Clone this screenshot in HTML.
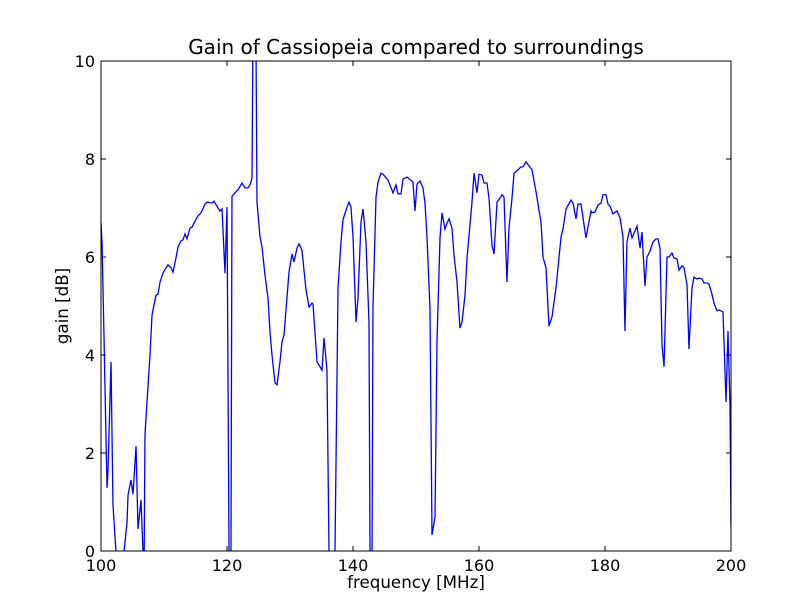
<!DOCTYPE html>
<html><head><meta charset="utf-8"><style>
body{margin:0;background:#fff;}
svg{display:block;font-family:"DejaVu Sans","Liberation Sans",sans-serif;}
</style></head><body>
<svg id="chart" width="812" height="612" viewBox="0 0 812 612">
<defs><clipPath id="plotclip"><rect x="101" y="61" width="630" height="490"/></clipPath></defs>
<rect width="812" height="612" fill="#fff"/>
<text x="416" y="54" font-size="20" text-anchor="middle">Gain of Cassiopeia compared to surroundings</text>
<g id="ticks"></g>
<path id="line" fill="none" stroke="#0000ff" stroke-width="1.3" clip-path="url(#plotclip)"/>
<rect x="101" y="61" width="630" height="490" fill="none" stroke="#000" stroke-width="1"/>
<text x="416" y="588" font-size="16.7" text-anchor="middle">frequency [MHz]</text>
<text transform="translate(68,306) rotate(-90)" font-size="16.7" text-anchor="middle">gain [dB]</text>
</svg>
<script>
const freq=[100.0,100.16,100.48,100.95,101.11,101.59,101.90,102.38,102.7,103.17,103.65,104.13,104.29,104.76,105.08,105.56,105.87,106.35,106.67,106.83,106.98,107.30,107.78,108.10,108.73,109.05,109.37,109.84,110.32,110.63,111.11,111.43,111.90,112.22,112.70,113.02,113.33,113.65,114.13,114.44,114.92,115.40,115.87,116.51,116.83,117.62,117.94,118.57,118.89,119.21,119.68,120.0,120.32,120.48,120.63,120.79,121.27,121.75,122.38,122.86,123.33,123.65,123.97,124.2,124.52,124.76,125.24,125.56,126.03,126.51,126.83,127.14,127.62,127.94,128.41,128.73,129.05,129.84,130.32,130.63,131.11,131.43,131.90,132.54,133.02,133.49,133.65,134.29,135.08,135.40,135.87,136.19,136.67,137.14,137.62,138.10,138.41,139.05,139.37,139.68,140.0,140.48,140.79,141.27,141.59,142.06,142.54,142.70,142.86,143.02,143.17,143.65,143.97,144.44,144.76,145.56,146.35,146.83,147.14,147.62,147.94,148.57,149.52,149.84,150.16,150.63,151.11,151.43,151.75,152.22,152.54,153.02,153.33,153.81,154.13,154.60,154.92,155.24,155.71,156.03,156.51,156.98,157.30,157.78,158.10,158.89,159.21,159.68,160.0,160.48,160.79,161.27,161.59,162.06,162.38,162.86,163.33,163.65,163.97,164.44,164.76,165.24,165.56,166.19,166.67,166.98,167.46,168.41,169.05,169.84,170.16,170.63,171.11,171.59,172.22,173.02,173.33,173.81,174.60,174.92,175.40,175.71,176.19,176.98,177.78,177.94,178.41,178.89,179.37,179.68,180.16,180.48,180.79,181.27,181.90,182.38,182.86,183.17,183.49,183.97,184.29,185.08,185.56,185.87,186.35,186.67,187.14,187.62,188.10,188.41,188.73,189.05,189.37,189.84,190.16,190.63,190.95,191.43,191.75,192.22,192.54,193.02,193.33,193.81,194.13,194.60,194.92,195.40,195.71,196.19,196.51,196.98,197.30,197.78,198.10,198.73,199.21,199.52,199.84,200.0];
const gain=[6.7,6.31,4.35,1.29,1.61,3.86,0.94,-0.02,-1.0,-1.0,-0.02,0.59,1.14,1.45,1.16,2.14,0.45,1.04,-0.02,-0.5,2.37,3.04,4.0,4.82,5.22,5.24,5.49,5.67,5.78,5.84,5.78,5.69,5.98,6.20,6.33,6.35,6.47,6.37,6.59,6.61,6.73,6.84,6.90,7.08,7.12,7.10,7.14,7.00,6.94,6.98,5.67,7.02,-0.02,-0.5,-0.02,7.24,7.31,7.37,7.51,7.41,7.41,7.47,7.61,12,12,7.12,6.41,6.20,5.63,5.16,4.47,4.0,3.43,3.39,3.86,4.27,4.41,5.69,6.06,5.90,6.18,6.27,6.14,5.33,4.98,5.06,5.04,3.86,3.69,4.35,3.69,-0.02,-1,-0.02,5.37,6.31,6.76,7.02,7.12,7.02,6.41,4.67,5.16,6.71,6.98,6.31,4.67,-0.02,-0.5,-0.02,4.96,7.22,7.53,7.71,7.69,7.57,7.31,7.47,7.29,7.29,7.59,7.63,7.53,6.94,7.49,7.55,7.41,7.10,6.39,4.96,0.33,0.69,4.27,6.39,6.90,6.57,6.69,6.78,6.59,6.04,5.49,4.55,4.67,5.22,5.98,7.12,7.71,7.31,7.69,7.67,7.51,7.51,7.20,6.24,6.06,7.12,7.20,7.27,7.22,5.49,6.59,7.20,7.71,7.78,7.84,7.84,7.94,7.78,7.33,6.71,6.0,5.78,4.59,4.78,5.37,6.41,6.57,6.98,7.16,7.10,6.78,7.08,7.08,6.39,6.94,6.90,6.92,7.06,7.10,7.27,7.27,7.08,7.04,6.88,6.94,6.80,6.41,4.49,6.31,6.59,6.39,6.63,6.18,6.51,5.41,6.0,6.12,6.31,6.37,6.37,6.18,4.20,3.76,6.0,6.0,6.08,5.98,5.96,5.73,5.82,5.78,5.43,4.12,5.37,5.59,5.55,5.57,5.55,5.47,5.47,5.45,5.24,5.06,4.90,4.92,4.88,3.04,4.49,2.98,0.49];
const xTicks=[100,120,140,160,180,200];
const yTicks=[0,2,4,6,8,10];
const X0=101,X1=731,Y0=551,Y1=61,xMin=100,xMax=200,yMin=0,yMax=10;
function sx(v){return X0+(v-xMin)/(xMax-xMin)*(X1-X0);}
function sy(v){return Y0-(v-yMin)/(yMax-yMin)*(Y0-Y1);}
const NS="http://www.w3.org/2000/svg";
const line=document.getElementById('line');
line.setAttribute('d',freq.map((f,i)=>(i?'L':'M')+sx(f).toFixed(2)+','+sy(gain[i]).toFixed(2)).join(''));
const tg=document.getElementById('ticks');
function mk(tag,attrs){const e=document.createElementNS(NS,tag);for(const k in attrs)e.setAttribute(k,attrs[k]);tg.appendChild(e);return e;}
xTicks.forEach(t=>{
  const x=sx(t);
  const a=mk('line',{x1:x,x2:x,y1:Y0,y2:Y0-5,stroke:'#000'});
  
  
  const b=mk('line',{x1:x,x2:x,y1:Y1,y2:Y1+5,stroke:'#000'});
  
  
  const l=mk('text',{x:x,y:Y0+20,'font-size':16,'text-anchor':'middle'});
  l.textContent=t;
  
  
});
yTicks.forEach(t=>{
  const y=sy(t);
  const a=mk('line',{x1:X0,x2:X0+5,y1:y,y2:y,stroke:'#000'});
  
  
  const b=mk('line',{x1:X1,x2:X1-5,y1:y,y2:y,stroke:'#000'});
  
  
  const l=mk('text',{x:X0-6,y:y+6,'font-size':16,'text-anchor':'end'});
  l.textContent=t;
  
  
});
</script>
</body></html>
